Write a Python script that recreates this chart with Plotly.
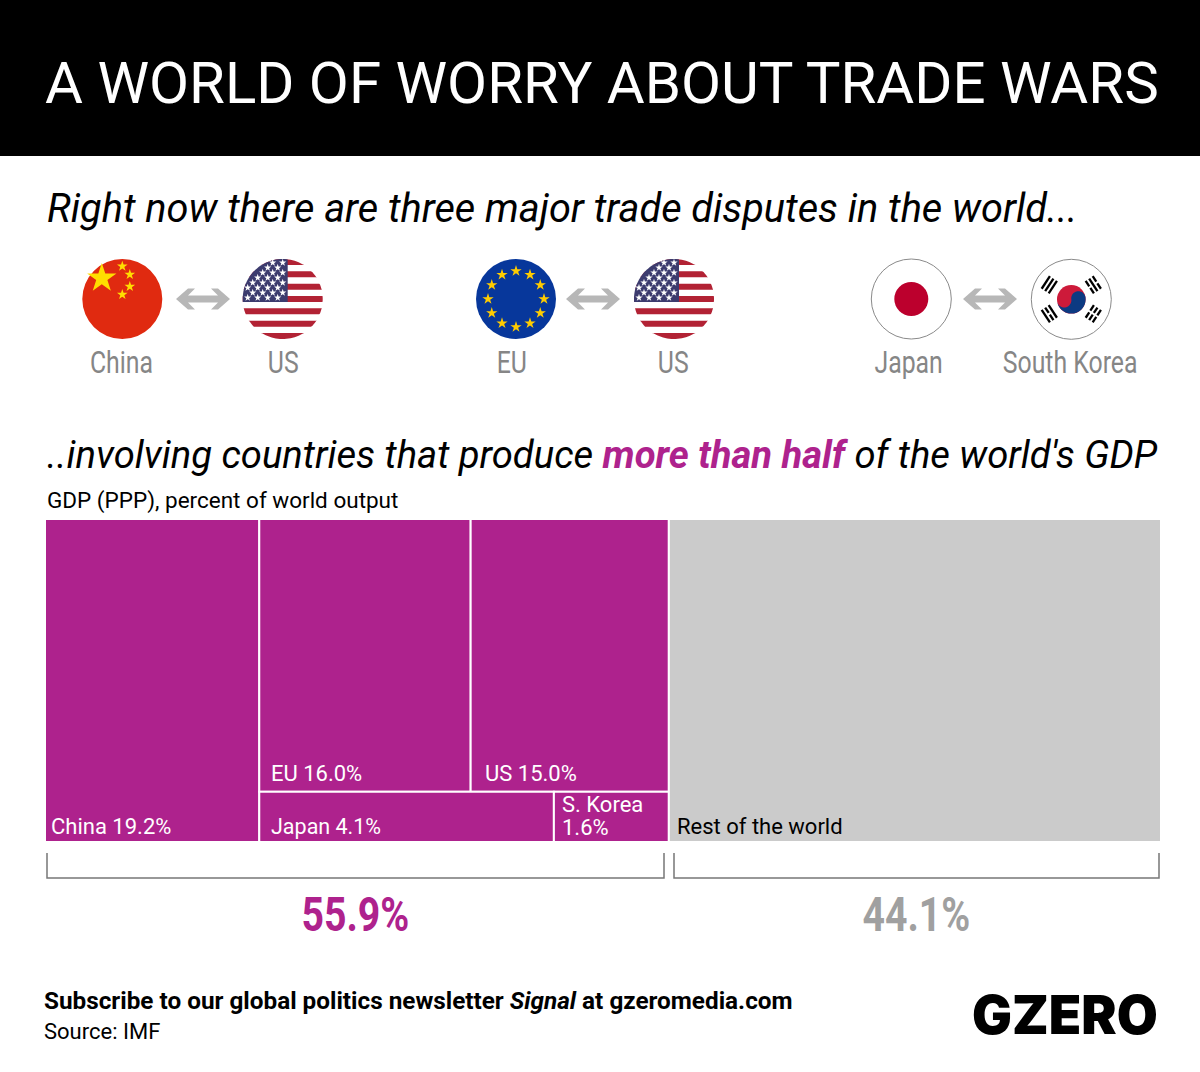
import json

import numpy as np
import plotly.graph_objects as go

# shares of world GDP (PPP), percent
group_names = ["China", "EU", "US", "Japan", "S. Korea", "Rest of the world"]
group_shares = [19.2, 16.0, 15.0, 4.1, 1.6, 44.1]
total_labels = ["55.9%", "44.1%"]

# dispute pairs shown above the treemap
flag_labels = ["China", "US", "EU", "US", "Japan", "South Korea"]

PURPLE = "#ae228d"
LIGHT = "#cbcbcb"
ARROW = "#b7b7b7"
LABEL_GREY = "#868686"
BODY_FONT = "Roboto"

shapes = []
notes = []


def poly(points):
    return "M" + " L".join(f"{x:.2f},{y:.2f}" for x, y in points) + " Z"


def add_path(points, color):
    shapes.append(dict(type="path", path=poly(points), fillcolor=color, line_width=0,
                       xref="x", yref="y", layer="below"))


def add_circle(cx, cy, r, color, line=None):
    shapes.append(dict(type="circle", x0=cx - r, x1=cx + r, y0=cy - r, y1=cy + r,
                       fillcolor=color, line=dict(color=line or color, width=1 if line else 0),
                       xref="x", yref="y", layer="below"))


def add_text(text, x, y, size, color="#000000", font=BODY_FONT, anchor="left"):
    notes.append(dict(text=text, x=x, y=y, xref="x", yref="y", showarrow=False,
                      xanchor=anchor, yanchor="middle", align=anchor,
                      font=dict(family=font, size=size, color=color)))


def clipped_disc(cx, cy, r, x0, x1, y0, y1):
    t = np.linspace(0, 2 * np.pi, 120)
    xs = np.clip(cx + r * np.cos(t), x0, x1)
    ys = np.clip(cy + r * np.sin(t), y0, y1)
    return list(zip(xs, ys))


def star_trace(xs, ys, size, color):
    return go.Scatter(x=xs, y=ys, mode="markers", hoverinfo="skip", showlegend=False,
                      marker=dict(symbol="star", size=size, color=color, line_width=0),
                      xaxis="x", yaxis="y")


def draw_arrow(cx, cy=299):
    pts = [(-27, 0), (-15, -10.5), (-8, -10.5), (-15, -3.5), (15, -3.5), (8, -10.5), (15, -10.5), (27, 0),
           (15, 10.5), (8, 10.5), (15, 3.5), (-15, 3.5), (-8, 10.5), (-15, 10.5)]
    add_path([(cx + x, cy + y) for x, y in pts], ARROW)


def draw_us(cx, cy=299, r=40):
    traces = []
    add_circle(cx, cy, r, "#ffffff")
    for k in range(7):
        top = cy - 40 + k * 12.33
        add_path(clipped_disc(cx, cy, r, cx - r, cx + r, top, top + 6), "#b22234")
    add_path(clipped_disc(cx, cy, r, cx - r, cx + 5, cy - r, cy + 3), "#3c3b6e")
    xs, ys = [], []
    for row in range(8):
        y = cy - 36.3 + row * 5
        for col in range(9):
            x = cx - (row % 2) * 5 - col * 10
            if (x - cx) ** 2 + (y - cy) ** 2 < (r - 2) ** 2:
                xs.append(x)
                ys.append(y)
    traces.append(star_trace(xs, ys, 5.5, "#ffffff"))
    return traces


def draw_china(cx, cy=299, r=40):
    add_circle(cx, cy, r, "#e02a10")
    small = [(0, -32.7), (7.5, -24.5), (7.5, -12.5), (0, -4.5)]
    return [star_trace([cx - 20.5], [cy - 20.7], 22, "#ffde00"),
            star_trace([cx + p[0] for p in small], [cy + p[1] for p in small], 8, "#ffde00")]


def draw_eu(cx, cy=299, r=40):
    add_circle(cx, cy, r, "#07379b")
    t = np.arange(12) * np.pi / 6
    return [star_trace(cx + 28 * np.cos(t), cy + 28 * np.sin(t), 8.5, "#ffcc00")]


def draw_japan(cx, cy=299, r=40):
    add_circle(cx, cy, r, "#ffffff", "#8a8a8a")
    add_circle(cx, cy, 17, "#bc002d")


def draw_korea(cx, cy=299.3, r=40):
    add_circle(cx, cy, r, "#ffffff", "#8a8a8a")
    rad = 14.3
    tilt = np.radians(-8)
    add_circle(cx, cy, rad, "#cd1a3a")
    lower = np.linspace(np.pi, 0, 50)
    bump_a = np.linspace(0, -np.pi, 25)
    bump_b = np.linspace(0, np.pi, 25)
    # blue half with the S-curve between the two colours
    px = np.concatenate([rad * np.cos(lower), rad / 2 + rad / 2 * np.cos(bump_a), -rad / 2 + rad / 2 * np.cos(bump_b)])
    py = np.concatenate([rad * np.sin(lower), rad / 2 * np.sin(bump_a), rad / 2 * np.sin(bump_b)])
    add_path(list(zip(cx + px * np.cos(tilt) - py * np.sin(tilt), cy + px * np.sin(tilt) + py * np.cos(tilt))), "#0c3a82")
    # trigrams: 1 solid bar, 0 broken bar
    groups = [((-22, -14.5), (1, 1, 1)), ((22, -14.5), (0, 1, 0)), ((-22, 14.5), (1, 0, 1)), ((22, 14.5), (0, 0, 0))]
    for (ox, oy), bars in groups:
        n = np.hypot(ox, oy)
        ux, uy = ox / n, oy / n  # radial
        vx, vy = -uy, ux  # along the bar
        for k, solid in enumerate(bars):
            mx, my = cx + ox + ux * (k - 1) * 4.2, cy + oy + uy * (k - 1) * 4.2
            spans = [(-7.5, 7.5)] if solid else [(-7.5, -1), (1, 7.5)]
            for a, b in spans:
                shapes.append(dict(type="line", x0=mx + vx * a, y0=my + vy * a, x1=mx + vx * b, y1=my + vy * b,
                                   line=dict(color="#000000", width=2.3), xref="x", yref="y", layer="below"))


# page furniture
shapes.append(dict(type="rect", x0=0, x1=1200, y0=0, y1=156, fillcolor="#000000", line_width=0,
                   xref="x", yref="y", layer="below"))
add_text("A WORLD OF WORRY ABOUT TRADE WARS", 43, 83, 58.2, "#ffffff")
add_text("<i>Right now there are three major trade disputes in the world...</i>", 45, 208, 39.7)
add_text("<i>..involving countries that produce </i>"
         f"<b><i><span style='color:{PURPLE}'>more than half</span></i></b><i> of the world's GDP</i>", 45, 455, 38.2)
add_text("GDP (PPP), percent of world output", 45, 500, 22.5)

# flags
traces = []
traces += draw_china(122.3)
traces += draw_us(282.7)
traces += draw_eu(516)
traces += draw_us(674)
draw_japan(911.3)
draw_korea(1071.3)
for ax in (203, 593, 990):
    draw_arrow(ax)
for label, lx in zip(flag_labels, (121, 283, 512, 673, 908, 1070)):
    add_text(label, lx, 362, 31, LABEL_GREY, BODY_FONT, "center")

# treemap built from the shares
china, eu, us, japan, korea, rest = group_shares
block = eu + us + japan + korea
top_frac = (eu + us) / block
bot_frac = (japan + korea) / block
lefts = [0, china, china + block * eu / (eu + us), china, china + block * japan / (japan + korea), china + block]
widths = [china, block * eu / (eu + us), block * us / (eu + us), block * japan / (japan + korea),
          block * korea / (japan + korea), rest]
bases = [0, bot_frac, bot_frac, 0, 0, 0]
heights = [1, top_frac, top_frac, bot_frac, bot_frac, 1]
colors = [PURPLE] * 5 + [LIGHT]
treemap = go.Bar(x=lefts, y=heights, base=bases, width=widths, offset=0, orientation="v",
                 marker=dict(color=colors, line=dict(color="#ffffff", width=2)),
                 hoverinfo="skip", showlegend=False, xaxis="x2", yaxis="y2")

add_text(f"{group_names[0]} {china}%", 49, 826, 22, "#ffffff")
add_text(f"{group_names[1]} {eu}%", 269, 773, 22, "#ffffff")
add_text(f"{group_names[2]} {us}%", 483, 773, 22, "#ffffff")
add_text(f"{group_names[3]} {japan}%", 269, 826, 21.5, "#ffffff")
add_text(group_names[4], 560, 804, 22, "#ffffff")
add_text(f"{korea}%", 560, 827, 22, "#ffffff")
add_text(group_names[5], 675, 826, 22, "#000000")

# brackets and totals
for x0, x1 in ((47, 664), (674, 1159)):
    shapes.append(dict(type="path", path=f"M{x0},853 L{x0},878 L{x1},878 L{x1},853",
                       line=dict(color="#777777", width=1.5), xref="x", yref="y", layer="below"))
add_text(f"<b>{total_labels[0]}</b>", 355, 914, 49, PURPLE, BODY_FONT, "center")
add_text(f"<b>{total_labels[1]}</b>", 916, 914, 49, "#a0a0a0", BODY_FONT, "center")

# footer
add_text("<b>Subscribe to our global politics newsletter <i>Signal</i> at gzeromedia.com</b>", 42, 1000, 24.3)
add_text("Source: IMF", 42, 1031, 22)
notes.append(dict(text="GZERO", x=1160, y=1015, xref="x", yref="y", showarrow=False, xanchor="right", yanchor="middle",
                  font=dict(family="Inter", size=53, color="#000000", weight=900)))

fig = go.Figure(traces + [treemap])
fig.update_layout(
    width=1200, height=1072, margin=dict(l=0, r=0, t=0, b=0, pad=0),
    paper_bgcolor="#ffffff", plot_bgcolor="rgba(0,0,0,0)", showlegend=False,
    shapes=shapes, annotations=notes, barmode="overlay",
    xaxis=dict(domain=[0, 1], range=[0, 1200], visible=False, fixedrange=True),
    yaxis=dict(domain=[0, 1], range=[1072, 0], visible=False, fixedrange=True),
    xaxis2=dict(domain=[45 / 1200, 1161 / 1200], range=[0, 100], visible=False, fixedrange=True, anchor="y2"),
    yaxis2=dict(domain=[1 - 842 / 1072, 1 - 519 / 1072], range=[0, 1], visible=False, fixedrange=True, anchor="x2"),
)

# no condensed face is installed, so squeeze these labels horizontally
squeezed = {label: 0.8 for label in flag_labels + total_labels}
post = """
document.body.style.margin = '0';
var squeezed = %s;
function squeeze() {
  document.querySelectorAll('.annotation-text').forEach(function (t) {
    var s = squeezed[t.textContent];
    if (!s) return;
    var b = t.getBBox(), c = b.x + b.width / 2;
    t.setAttribute('transform', 'translate(' + c + ',0) scale(' + s + ',1) translate(' + (-c) + ',0)');
  });
}
squeeze();
setTimeout(squeeze, 100);
""" % json.dumps(squeezed)
fig.write_html("out.html", post_script=post, config=dict(displayModeBar=False))
